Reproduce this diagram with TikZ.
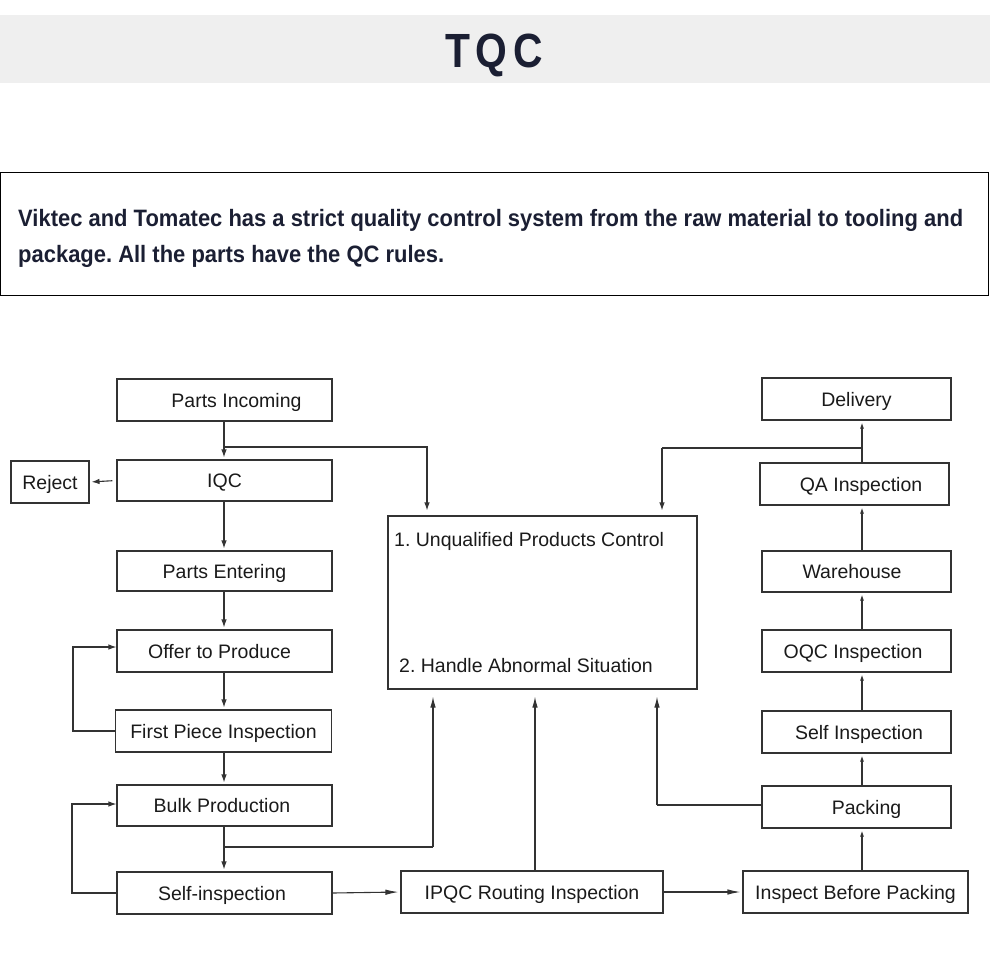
\documentclass[tikz,border=0pt]{standalone}
\usepackage{fontspec}
\usepackage{graphicx}
\setmainfont{Liberation Sans}
\newfontfamily\titlefont[FakeStretch=0.85]{Liberation Sans}
\usetikzlibrary{arrows.meta}
\definecolor{navy}{HTML}{1B1F33}
\definecolor{bandgray}{HTML}{EFEFEF}
\definecolor{linec}{HTML}{333333}
\definecolor{txtc}{HTML}{1A1A1A}
\newsavebox\lineonebox
\frenchspacing
\begin{document}
\sbox\lineonebox{\color{navy}\fontsize{23.7}{28}\selectfont\bfseries Viktec and Tomatec has a strict quality control system from the raw material to tooling and}%
\pgfmathsetmacro\sx{945/\the\wd\lineonebox}%
\begin{tikzpicture}[x=1pt,y=-1pt,
  box/.style={draw=linec, line width=1.1pt, inner sep=0pt, minimum height=42pt,
    text=txtc, font=\fontsize{19.5}{22}\selectfont, text height=18pt, text depth=4pt},
  lbl/.style={inner sep=0pt, text=txtc, font=\fontsize{19.5}{22}\selectfont},
  conn/.style={draw=linec, line width=1.1pt},
  arr/.style={conn, -{Latex[length=8pt,width=5.5pt]}, shorten >=2pt},
  arrs/.style={conn, -{Latex[length=6pt,width=4pt]}, shorten >=2pt},
  arrl/.style={conn, -{Latex[length=13pt,width=5.5pt]}, shorten >=2pt},
  arrb/.style={conn, -{Latex[length=11pt,width=5.5pt]}, shorten >=7pt},
]
\useasboundingbox (0,0) rectangle (990,979);
% title band
\fill[bandgray] (0,15) rectangle (990,83);
\node[anchor=base, inner sep=0pt, text=navy] (title) at (494,68)
  {\fontsize{48}{50}\selectfont\bfseries\titlefont T\hspace{5.5pt}Q\hspace{5.5pt}C};
% description box
\draw[line width=1pt, black] (0.5,172) rectangle (988,295);
\node[anchor=base west, inner sep=0pt, text=navy] (p1) at (18,226) {\scalebox{\sx}[1]{\usebox\lineonebox}};
\node[anchor=base west, inner sep=0pt, text=navy] (p2) at (18,262)
  {\scalebox{\sx}[1]{\fontsize{23.7}{28}\selectfont\bfseries package. All the parts have the QC rules.}};

% left column
\node[box, minimum width=215pt] (pin) at (224.5,400) {\hspace*{24pt}Parts Incoming};
\node[box, minimum width=215pt, minimum height=41pt] (iqc) at (224.5,480.5) {IQC};
\node[box, minimum width=78pt] (rej) at (50,482) {Reject};
\node[box, minimum width=215pt, minimum height=40pt] (pe) at (224.5,571) {Parts Entering};
\node[box, minimum width=215pt] (otp) at (224.5,651) {\hspace*{-10pt}Offer to Produce};
\node[box, minimum width=216pt] (fpi) at (223.5,731) {First Piece Inspection};
\node[box, minimum width=215pt, minimum height=41pt] (bp) at (224.5,805.5) {\hspace*{-5pt}Bulk Production};
\node[box, minimum width=215pt] (si) at (224.5,893) {\hspace*{-5pt}Self-inspection};
% middle
\node[draw=linec, line width=1.1pt, minimum width=309pt, minimum height=173pt, inner sep=0pt] (big) at (542.5,602.5) {};
\node[lbl, anchor=base west] (t1) at (394,546) {1. Unqualified Products Control};
\node[lbl, anchor=base west] (t2) at (399,672) {2. Handle Abnormal Situation};
\node[box, minimum width=262pt] (ipqc) at (532,892) {IPQC Routing Inspection};
% right column
\node[box, minimum width=225pt] (ibp) at (855.5,892) {Inspect Before Packing};
\node[box, minimum width=189pt] (pk) at (856.5,807) {\hspace*{20pt}Packing};
\node[box, minimum width=189pt] (sin) at (856.5,732) {\hspace*{5pt}Self Inspection};
\node[box, minimum width=189pt] (oqc) at (856.5,651) {\hspace*{-7pt}OQC Inspection};
\node[box, minimum width=189pt, minimum height=41pt] (wh) at (856.5,571.5) {\hspace*{-9pt}Warehouse};
\node[box, minimum width=189pt] (qa) at (854.5,484) {\hspace*{13pt}QA Inspection};
\node[box, minimum width=189pt] (del) at (856.5,399) {Delivery};

% junction coordinates
\coordinate (j1) at (224,447);
\coordinate (j2) at (224,847);
\coordinate (j3) at (862,448);
\coordinate (c427) at (427,470);
\coordinate (c433) at (433,847);
\coordinate (c535) at (535,800);
\coordinate (c657) at (657,805);
\coordinate (c662) at (662,448);

% left column connectors
\draw[arr] (pin.south -| j1) -- (iqc.north -| j1);
\draw[conn] (j1) -| (c427);
\draw[arr, shorten >=5pt] (c427) -- (big.north -| c427);
\draw[arr, shorten <=4pt] (iqc.west) -- (rej.east);
\draw[arr] (iqc.south -| j1) -- (pe.north -| j1);
\draw[arr] (pe.south -| j1) -- (otp.north -| j1);
\draw[arr] (otp.south -| j1) -- (fpi.north -| j1);
\draw[arr] (fpi.south -| j1) -- (bp.north -| j1);
\draw[arr] (bp.south -| j1) -- (si.north -| j1);
\draw[arr, shorten >=0pt] (fpi.west) -- (73,731) |- ([yshift=4pt]otp.west);
\draw[arr, shorten >=0pt] (si.west) -- (72,893) |- ([yshift=1.5pt]bp.west);
\draw[conn] (j2) -- (c433);
\draw[arrb] (c433) -- (big.south -| c433);
% bottom row
\draw[arrl] (si.east) -- (ipqc.west);
\draw[arrb] (ipqc.north -| c535) -- (big.south -| c535);
\draw[arrl] (ipqc.east) -- (ibp.west);
% right column
\draw[arrs] (ibp.north -| j3) -- (pk.south -| j3);
\draw[conn] ([yshift=2pt]pk.west) -- (c657);
\draw[arrb] (c657) -- (big.south -| c657);
\draw[arrs] (pk.north -| j3) -- (sin.south -| j3);
\draw[arrs] (sin.north -| j3) -- (oqc.south -| j3);
\draw[arrs] (oqc.north -| j3) -- (wh.south -| j3);
\draw[arrs] (wh.north -| j3) -- (qa.south -| j3);
\draw[arrs] (qa.north -| j3) -- (del.south -| j3);
\draw[conn] (j3) -- (c662);
\draw[arr, shorten >=5pt] (c662) -- (big.north -| c662);
\end{tikzpicture}
\end{document}
